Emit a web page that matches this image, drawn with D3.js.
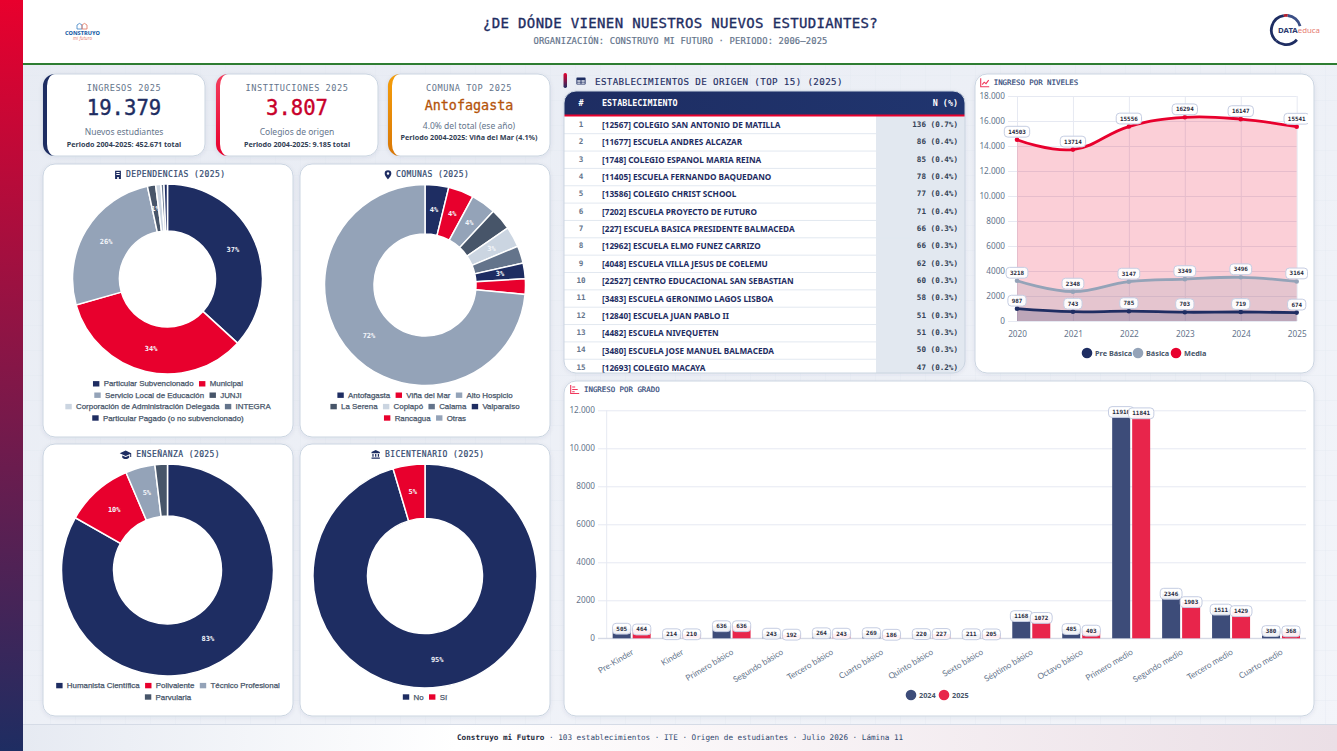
<!DOCTYPE html>
<html lang="es">
<head>
<meta charset="utf-8">
<title>¿De dónde vienen nuestros nuevos estudiantes?</title>
<script src="https://cdn.jsdelivr.net/npm/d3@7/dist/d3.min.js"></script>
<style>
html,body{margin:0;padding:0;background:#eef1f7;overflow:hidden}
svg{display:block}
text{dominant-baseline:central}
.mono{font-family:"DejaVu Sans Mono",monospace}
.sans{font-family:"Noto Sans",sans-serif}
.leg{font-family:"Liberation Sans",Arial,sans-serif}
.axis text{font-family:"Noto Sans",sans-serif;font-size:8.2px;fill:#64748b;dominant-baseline:auto}
.axis line{stroke:#e6e9f2;stroke-width:1}
.axis path{display:none}
</style>
</head>
<body>
<svg id="c" width="1337" height="751" xmlns="http://www.w3.org/2000/svg"></svg>
<script>
const NAVY="#1e2d62",RED="#e8002d",GRAY="#94a3b8",DARK="#475569",LIGHT="#cbd5e1",SLATE="#64748b";

// Donut data
const depLabels=["Particular Subvencionado","Municipal","Servicio Local de Educación","JUNJI","Corporación de Administración Delegada","INTEGRA","Particular Pagado (o no subvencionado)"];
const depValues=[36.8,33.8,26.0,1.4,0.9,0.5,0.6];
const depText=["37%","34%","26%","1%","","",""];
const depRows=[2,2,2,1];
const comLabels=["Antofagasta","Viña del Mar","Alto Hospicio","La Serena","Copiapó","Calama","Valparaíso","Rancagua","Otras"];
const comValues=[3.8,4.1,4.0,3.5,3.3,2.8,2.5,2.5,73.5];
const comText=["4%","4%","4%","","3%","","3%","","72%"];
const comRows=[3,4,2];
const ensLabels=["Humanista Científica","Polivalente","Técnico Profesional","Parvularia"];
const ensValues=[83.2,10.4,4.5,1.9];
const ensText=["83%","10%","5%",""];
const ensRows=[3,1];
const bicLabels=["No","Sí"];
const bicValues=[95.4,4.6];
const bicText=["95%","5%"];
const bicRows=[2];

// Table data
const tblCodes=[12567,11677,1748,11405,13586,7202,227,12962,4048,22527,3483,12840,4482,3480,12693];
const tblNames=["COLEGIO SAN ANTONIO DE MATILLA","ESCUELA ANDRES ALCAZAR","COLEGIO ESPANOL MARIA REINA","ESCUELA FERNANDO BAQUEDANO","COLEGIO CHRIST SCHOOL","ESCUELA PROYECTO DE FUTURO","ESCUELA BASICA PRESIDENTE BALMACEDA","ESCUELA ELMO FUNEZ CARRIZO","ESCUELA VILLA JESUS DE COELEMU","CENTRO EDUCACIONAL SAN SEBASTIAN","ESCUELA GERONIMO LAGOS LISBOA","ESCUELA JUAN PABLO II","ESCUELA NIVEQUETEN","ESCUELA JOSE MANUEL BALMACEDA","COLEGIO MACAYA"];
const tblN=[136,86,85,78,77,71,66,66,62,60,58,51,51,50,47];
const tblPct=["0.7","0.4","0.4","0.4","0.4","0.4","0.3","0.3","0.3","0.3","0.3","0.3","0.3","0.3","0.2"];

// Line chart data
const years=[2020,2021,2022,2023,2024,2025];
const preBasica=[987,743,785,703,719,674];
const basica=[3218,2348,3147,3349,3496,3164];
const media=[14503,13714,15556,16294,16147,15541];
const lineTicks=[0,2000,4000,6000,8000,10000,12000,14000,16000,18000];
const lineTickLabels=["0","2000","4000","6000","8000","10.000","12.000","14.000","16.000","18.000"];

// Bar chart data
const grados=["Pre-Kinder","Kinder","Primero básico","Segundo básico","Tercero básico","Cuarto básico","Quinto básico","Sexto básico","Séptimo básico","Octavo básico","Primero medio","Segundo medio","Tercero medio","Cuarto medio"];
const ing2024=[505,214,636,243,264,269,220,211,1168,485,11910,2346,1511,380];
const ing2025=[464,210,636,192,243,186,227,205,1072,403,11841,1903,1429,368];
const barTicks=[0,2000,4000,6000,8000,10000,12000];
const barTickLabels=["0","2000","4000","6000","8000","10.000","12.000"];

const svg=d3.select("#c");
const defs=svg.append("defs");
function grad(id,stops,x2,y2){
  const g=defs.append("linearGradient").attr("id",id).attr("x1",0).attr("y1",0).attr("x2",x2).attr("y2",y2);
  stops.forEach(s=>g.append("stop").attr("offset",s[0]).attr("stop-color",s[1]));
}
grad("side",[[0,"#e8002d"],[1,"#1e2d62"]],0,1);
grad("bg",[[0,"#e7ebf3"],[1,"#f3f5fa"]],1,1);
grad("foot",[[0,"#e6eaf2"],[0.33,"#ffffff"],[1,"#ebdfe6"]],1,0);
grad("thead",[[0,"#1e2d62"],[1,"#20356f"]],1,0);
grad("tick2",[[0,"#f43f5e"],[1,"#e8002d"]],0,1);
grad("tick3",[[0,"#f59e0b"],[1,"#d97706"]],0,1);
const pat=defs.append("pattern").attr("id","gridp").attr("width",25).attr("height",25).attr("patternUnits","userSpaceOnUse");
pat.append("path").attr("d","M25 0H0V25").attr("fill","none").attr("stroke","#e1e6ef").attr("stroke-width",0.7);
const shadow=defs.append("filter").attr("id","sh").attr("x","-5%").attr("y","-5%").attr("width","110%").attr("height","110%");
shadow.append("feDropShadow").attr("dx",0).attr("dy",1).attr("stdDeviation",2).attr("flood-color","#1e2d62").attr("flood-opacity",.08);
defs.append("clipPath").attr("id","lineclip").append("rect").attr("x",975).attr("y",74).attr("width",333).attr("height",299);
defs.append("clipPath").attr("id","tblclip").append("rect").attr("x",564).attr("y",91).attr("width",401).attr("height",282).attr("rx",12);

// Page frame
svg.append("rect").attr("width",1337).attr("height",751).attr("fill","url(#bg)");
svg.append("rect").attr("width",1337).attr("height",751).attr("fill","url(#gridp)");
svg.append("rect").attr("x",23).attr("width",1314).attr("height",63).attr("fill","#fff");
svg.append("rect").attr("x",23).attr("y",63).attr("width",1314).attr("height",2).attr("fill","#2e7d32");
svg.append("rect").attr("x",23).attr("y",724).attr("width",1314).attr("height",27).attr("fill","url(#foot)");
svg.append("rect").attr("x",23).attr("y",724).attr("width",1314).attr("height",1).attr("fill","#d5dbe6");
svg.append("rect").attr("width",23).attr("height",751).attr("fill","url(#side)");

function txt(p,x,y,s,cls,size,fill,o={}){
  const t=p.append("text").attr("class",cls).attr("x",x).attr("y",y).attr("font-size",size).attr("fill",fill)
    .attr("text-anchor",o.a||"start").attr("font-weight",o.w||400).style("letter-spacing",o.ls?o.ls+"px":null)
    .attr("font-style",o.i||null).text(s);
  if(o.st) t.attr("stroke",fill).attr("stroke-width",o.st);
  return t;
}

// Header
txt(svg,680.5,23,"¿DE DÓNDE VIENEN NUESTROS NUEVOS ESTUDIANTES?","mono",14,NAVY,{a:"middle",st:.35,ls:.35});
txt(svg,680.5,41,"ORGANIZACIÓN: CONSTRUYO MI FUTURO · PERIODO: 2006–2025","mono",8.8,SLATE,{a:"middle",st:.2,ls:.15});

// Construyo logo
const lg=svg.append("g");
lg.append("path").attr("d","M77 29v-4l2.5-1.6 2.5 1.6v4z").attr("fill","none").attr("stroke","#3b82c4").attr("stroke-width",.8);
lg.append("path").attr("d","M82 29v-4l2.5-1.6 2.5 1.6v4z").attr("fill","none").attr("stroke","#e2725b").attr("stroke-width",.8);
txt(lg,82.5,33,"CONSTRUYO","sans",5.6,"#1d5fa8",{a:"middle",w:800});
txt(lg,82.5,38,"mi futuro","sans",4.6,"#e98b7c",{a:"middle",i:"italic"});

// DATAeduca logo
const ring=svg.append("g").attr("transform","translate(1286,30)");
const rarc=d3.arc().innerRadius(13.2).outerRadius(16);
[[ -2.4,-0.15,NAVY ],[-0.15,0.12,"#b3202f"],[0.12,1.3,"#3b4f86"],[-3.0,-2.4,NAVY]].forEach(d=>{
  ring.append("path").attr("d",rarc({startAngle:d[0],endAngle:d[1]})).attr("fill",d[2]);
});
ring.append("path").attr("d",rarc({startAngle:2.3,endAngle:3.3})).attr("fill",NAVY);
const dt=txt(svg,1278,30,"DATA","sans",7.8,"#2a3a70",{w:700});
dt.append("tspan").attr("fill","#e67a70").attr("font-weight",400).text("educa");

// Cards
function card(x,y,w,h){
  return svg.append("rect").attr("x",x).attr("y",y).attr("width",w).attr("height",h).attr("rx",12)
    .attr("fill","#fff").attr("stroke","#cbd5e1").attr("stroke-width",1).attr("filter","url(#sh)");
}
function kpi(x,col,title,value,vs,vy,sub,sy,per,py){
  card(x,74,162,82);
  svg.append("path").attr("fill",col)
    .attr("d",`M${x+12} 74a12 12 0 0 0-12 12v58a12 12 0 0 0 12 12a8 12 0 0 1-8-12v-58a8 12 0 0 1 8-12z`);
  const cx=x+81;
  txt(svg,cx,88,title,"mono",8.6,SLATE,{a:"middle",ls:.55});
  txt(svg,cx,vy,value,"mono",vs,title.startsWith("ING")?NAVY:title.startsWith("INS")?"#c8002a":"#b45309",{a:"middle",st:vs>15?.4:.3});
  txt(svg,cx,sy,sub,"sans",8.5,SLATE,{a:"middle"});
  txt(svg,cx,py,per,"sans",7.2,"#334155",{a:"middle",w:700});
}
kpi(43,NAVY,"INGRESOS 2025","19.379",20.6,108,"Nuevos estudiantes",131,"Periodo 2004-2025: 452.671 total",143.5);
kpi(216,"url(#tick2)","INSTITUCIONES 2025","3.807",20.6,108,"Colegios de origen",131,"Periodo 2004-2025: 9.185 total",143.5);
kpi(388,"url(#tick3)","COMUNA TOP 2025","Antofagasta",13.4,105,"4.0% del total (ese año)",125,"Periodo 2004-2025: Viña del Mar (4.1%)",136.5);

const ICONS={
 building:"M5 2h14v20h-5v-5h-4v5H5zM8 5v2.5h8V5zM8 10v2.5h8V10z",
 pin:"M12 1a8 8 0 0 0-8 8c0 6 8 14 8 14s8-8 8-14a8 8 0 0 0-8-8zm0 11a3 3 0 1 1 0-6 3 3 0 0 1 0 6z",
 cap:"M12 4L0 9.5l12 5.5 9-4.1V17h2V9.5zM5 14v4c2 2 4.500 3 7 3s5-1 7-3v-4l-7 3.200z",
 bank:"M12 1L2 6v3h20V6zM4 10.500v7h3v-7zm6.500 0v7h3v-7zM17 10.500v7h3v-7zM2 19h20v3H2z",
 table:"M3 4h18a1.500 1.500 0 0 1 1.500 1.500v13a1.500 1.500 0 0 1-1.500 1.500H3a1.500 1.500 0 0 1-1.500-1.500v-13A1.500 1.500 0 0 1 3 4zm.5 6.500v3h7.500v-3zm9.500 0v3h7.500v-3zM3.500 15.500v2.500h7.500v-2.500zm9.500 0v2.500h7.500v-2.500z"
};
function icon(name,x,y,s,fill){
  svg.append("path").attr("d",ICONS[name]).attr("fill",fill).attr("fill-rule","evenodd")
    .attr("transform",`translate(${x-s/2},${y-s/2}) scale(${s/24})`);
}

// Donuts
function donut(o){
  card(o.card[0],o.card[1],o.card[2],o.card[3]);
  icon(o.icon,o.ix,o.ty+.5,o.is||10,NAVY);
  txt(svg,o.tx,o.ty,o.title,"mono",8,"#334a70",{ls:.42,st:.2});
  const arcs=d3.pie().sort(null).value(d=>d)(o.values);
  const arc=d3.arc().innerRadius(o.r0).outerRadius(o.r1);
  const g=svg.append("g").attr("transform",`translate(${o.cx},${o.cy})`);
  g.selectAll("path").data(arcs).join("path").attr("d",arc)
    .attr("fill",(d,i)=>o.colors[i]).attr("stroke","#fff").attr("stroke-width",1.5);
  g.selectAll("text").data(arcs).join("text").attr("class","mono")
    .attr("transform",d=>`translate(${arc.centroid(d)})`).attr("text-anchor","middle")
    .attr("font-size",7).attr("font-weight",700).attr("fill","#f3f5fa")
    .text((d,i)=>o.text[i]);
  // Legend, rows are centred under the donut
  let idx=0;
  const bottom=o.card[1]+o.card[3]-19;
  o.rows.forEach((n,r)=>{
    const y=bottom-(o.rows.length-1-r)*11.4;
    const row=svg.append("g");
    let x=0;
    for(let k=0;k<n;k++,idx++){
      const it=row.append("g").attr("transform",`translate(${x},0)`);
      it.append("rect").attr("y",-2.7).attr("width",6.4).attr("height",5.4).attr("fill",o.colors[idx]);
      const t=it.append("text").attr("class","leg").attr("x",10.7).attr("font-size",7.9).attr("fill",DARK)
        .attr("stroke",DARK).attr("stroke-width",.25).text(o.labels[idx]);
      x+=10.7+t.node().getComputedTextLength()+5.4;
    }
    row.attr("transform",`translate(${o.lc-(x-5.4)/2},${y})`);
  });
}
const depColors=[NAVY,RED,GRAY,DARK,LIGHT,SLATE,NAVY];
const comColors=[NAVY,RED,GRAY,DARK,LIGHT,SLATE,NAVY,RED,GRAY];
donut({card:[43,164,250,273],icon:"building",ix:118,tx:126,ty:174.3,title:"DEPENDENCIAS (2025)",cx:167.5,cy:279,r0:48,r1:95,values:depValues,text:depText,colors:depColors,labels:depLabels,rows:depRows,lc:168});
donut({card:[300,164,250,273],icon:"pin",ix:388,tx:396,ty:174.3,title:"COMUNAS (2025)",cx:425,cy:285,r0:51,r1:100.5,values:comValues,text:comText,colors:comColors,labels:comLabels,rows:comRows,lc:425});
donut({card:[43,444,250,272],icon:"cap",ix:125.7,tx:136.3,ty:454,is:12,title:"ENSEÑANZA (2025)",cx:167.5,cy:570,r0:54,r1:106,values:ensValues,text:ensText,colors:[NAVY,RED,GRAY,DARK],labels:ensLabels,rows:ensRows,lc:168});
donut({card:[300,444,250,272],icon:"bank",ix:375.7,tx:385,ty:454,title:"BICENTENARIO (2025)",cx:425,cy:576,r0:57.5,r1:112,values:bicValues,text:bicText,colors:[NAVY,RED],labels:bicLabels,rows:bicRows,lc:425});

// Table
svg.append("rect").attr("x",563.5).attr("y",73).attr("width",3.5).attr("height",15).attr("rx",1.7).attr("fill","url(#side)");
icon("table",581,81,10.5,NAVY);
txt(svg,595,81,"ESTABLECIMIENTOS DE ORIGEN (TOP 15) (2025)","mono",9.2,"#1e2d62",{ls:.37,st:.15});
svg.append("rect").attr("x",564).attr("y",91).attr("width",401).attr("height",282).attr("rx",12).attr("fill","#fff").attr("filter","url(#sh)");
const tg=svg.append("g").attr("clip-path","url(#tblclip)");
tg.append("rect").attr("x",876).attr("y",116).attr("width",89).attr("height",258).attr("fill","#e2e8f0");
tg.append("rect").attr("x",564).attr("y",91).attr("width",401).attr("height",24).attr("fill","url(#thead)");
tg.append("rect").attr("x",564).attr("y",114.5).attr("width",401).attr("height",2).attr("fill",RED);
txt(tg,581,103,"#","mono",8.4,"#fff",{a:"middle",w:700});
txt(tg,602,103,"ESTABLECIMIENTO","mono",8.4,"#fff",{w:700});
txt(tg,958,103,"N (%)","mono",8.4,"#fff",{a:"end",w:700});
const ry=d3.scalePoint().domain(d3.range(15)).range([125,367.9]);
const rows=tg.selectAll("g.r").data(d3.range(15)).join("g").attr("class","r").attr("transform",i=>`translate(0,${ry(i)})`);
rows.append("line").attr("x1",564).attr("x2",965).attr("y1",8.7).attr("y2",8.7).attr("stroke","#e2e8f0").attr("stroke-width",1);
rows.append("text").attr("class","mono").attr("x",581).attr("y",-.7).attr("text-anchor","middle").attr("font-size",7.6).attr("fill",SLATE).attr("font-weight",700).text(i=>i+1);
rows.append("text").attr("class","sans").attr("x",602).attr("y",-.5).attr("font-size",8.2).attr("font-weight",700).attr("fill",NAVY).text(i=>`[${tblCodes[i]}] ${tblNames[i]}`);
rows.append("text").attr("class","mono").attr("x",958).attr("y",-.7).attr("text-anchor","end").attr("font-size",7.6).attr("font-weight",700).attr("fill","#334155").text(i=>`${tblN[i]} (${tblPct[i]}%)`);
svg.append("rect").attr("x",564).attr("y",91).attr("width",401).attr("height",282).attr("rx",12).attr("fill","none").attr("stroke","#cbd5e1");

function valueLabel(p,x,y,v){
  const g=p.append("g").attr("transform",`translate(${x},${y})`);
  const s=String(v);
  const w=s.length*3.55+7.6;
  g.append("rect").attr("x",-w/2).attr("y",-5.4).attr("width",w).attr("height",10.8).attr("rx",3.5)
    .attr("fill","#fff").attr("fill-opacity",.93).attr("stroke","#c5cde2").attr("stroke-width",1);
  g.append("text").attr("class","mono").attr("text-anchor","middle").attr("font-size",5.9).attr("font-weight",700).attr("fill","#1e293b").text(s);
}
function legendDots(p,y,items){
  items.forEach(d=>{
    p.append("circle").attr("cx",d[0]).attr("cy",y).attr("r",5.3).attr("fill",d[1]);
    p.append("text").attr("class","sans").attr("x",d[0]+8).attr("y",y).attr("font-size",7.3).attr("font-weight",700).attr("fill",DARK).text(d[2]);
  });
}
function redIcon(x,y,kind){
  const g=svg.append("g").attr("transform",`translate(${x-4.5},${y-4.5})`).attr("fill","none").attr("stroke","#f0385c").attr("stroke-width",1.1);
  g.append("path").attr("d","M.5 0V8.500H9");
  if(kind==="line") g.append("path").attr("d","M2 6.500L4 4l1.800 1.500L8.500 2");
  else g.append("path").attr("d","M2 2H5M2 4.500H7.500M2 6.800H4.500");
}

// Line chart
card(975,74,339,299);
redIcon(984.7,82.7,"line");
txt(svg,993.7,82.7,"INGRESO POR NIVELES","mono",7.4,"#334a7a",{st:.2});
const lx=d3.scalePoint().domain(years).range([1017,1296.7]);
const ly=d3.scaleLinear().domain([0,18000]).range([321,96]);
const lg2=svg.append("g");
lg2.append("g").attr("class","axis").attr("transform","translate(1008,0)")
  .call(d3.axisLeft(ly).tickValues(lineTicks).tickFormat((d,i)=>lineTickLabels[i]).tickSize(-(1296.7-1008)).tickPadding(3));
lg2.append("g").attr("class","axis").attr("transform","translate(0,321)")
  .call(d3.axisBottom(lx).tickFormat(d3.format("d")).tickSize(-225).tickPadding(10));
const lineCurve=d3.curveCardinal.tension(-0.2);
const lineSeries=[[media,RED,"rgba(232,0,45,.19)"],[basica,GRAY,"rgba(148,163,184,.22)"],[preBasica,NAVY,"rgba(30,45,98,.2)"]];
lineSeries.forEach(s=>{
  lg2.append("path").attr("d",d3.area().x((d,i)=>lx(years[i])).y0(ly(0)).y1(d=>ly(d)).curve(lineCurve)(s[0])).attr("fill",s[2]);
});
lineSeries.forEach(s=>{
  lg2.append("path").attr("d",d3.line().x((d,i)=>lx(years[i])).y(d=>ly(d)).curve(lineCurve)(s[0])).attr("fill","none").attr("stroke",s[1]).attr("stroke-width",2.8);
  lg2.selectAll(null).data(s[0]).join("circle").attr("cx",(d,i)=>lx(years[i])).attr("cy",d=>ly(d)).attr("r",2.3).attr("fill",s[1]);
});
const lbl=svg.append("g").attr("clip-path","url(#lineclip)");
[preBasica,basica,media].forEach(a=>a.forEach((v,i)=>valueLabel(lbl,lx(years[i]),ly(v)-8,v)));
legendDots(svg,353,[[1087,NAVY,"Pre Básica"],[1138,GRAY,"Básica"],[1176,RED,"Media"]]);

// Bar chart
card(564,381,750,335);
redIcon(574.7,389.5,"bar");
txt(svg,584,389.5,"INGRESO POR GRADO","mono",7.4,"#334a7a",{st:.2});
const bx=d3.scaleBand().domain(grados).range([606.7,1306]);
const by=d3.scaleLinear().domain([0,12000]).range([638.3,410.3]);
const bg=svg.append("g");
bg.append("g").attr("class","axis").attr("transform","translate(598,0)")
  .call(d3.axisLeft(by).tickValues(barTicks).tickFormat((d,i)=>barTickLabels[i]).tickSize(-(1306-598)).tickPadding(3));
bg.append("line").attr("x1",606.7).attr("x2",606.7).attr("y1",410.3).attr("y2",638.3).attr("stroke","#e6e9f2");
const xa=bg.append("g").attr("class","axis").attr("transform","translate(0,638.3)")
  .call(d3.axisBottom(bx).tickSize(0));
xa.selectAll("text").attr("text-anchor","end").attr("y",0).attr("dy",".32em")
  .attr("transform","translate(1,13) rotate(-31)")
  .style("font-family","Lato,sans-serif").style("font-size","8.3px").style("fill","#64748b");
bg.append("line").attr("x1",598).attr("x2",1306).attr("y1",638.3).attr("y2",638.3).attr("stroke","#cfd4e2");
const barW=18;
bg.selectAll("rect.a").data(ing2024).join("rect").attr("class","a").attr("x",(d,i)=>bx(grados[i])+bx.bandwidth()/2-barW-1).attr("width",barW)
  .attr("y",d=>by(d)).attr("height",d=>by(0)-by(d)).attr("fill","#3d4c79");
bg.selectAll("rect.b").data(ing2025).join("rect").attr("class","b").attr("x",(d,i)=>bx(grados[i])+bx.bandwidth()/2+1).attr("width",barW)
  .attr("y",d=>by(d)).attr("height",d=>by(0)-by(d)).attr("fill","#e8254b");
ing2024.forEach((v,i)=>valueLabel(svg,bx(grados[i])+bx.bandwidth()/2-10,by(v),v));
ing2025.forEach((v,i)=>valueLabel(svg,bx(grados[i])+bx.bandwidth()/2+10,by(v),v));
legendDots(svg,695,[[911,"#3d4c79","2024"],[944,"#e8254b","2025"]]);

// Footer
const ft=txt(svg,457,737,"Construyo mi Futuro","mono",7.65,"#1e293b",{w:700});
ft.append("tspan").attr("font-weight",400).attr("fill","#334a70").text(" · 103 establecimientos · ITE · Origen de estudiantes · Julio 2026 · Lámina 11");
</script>
</body>
</html>
